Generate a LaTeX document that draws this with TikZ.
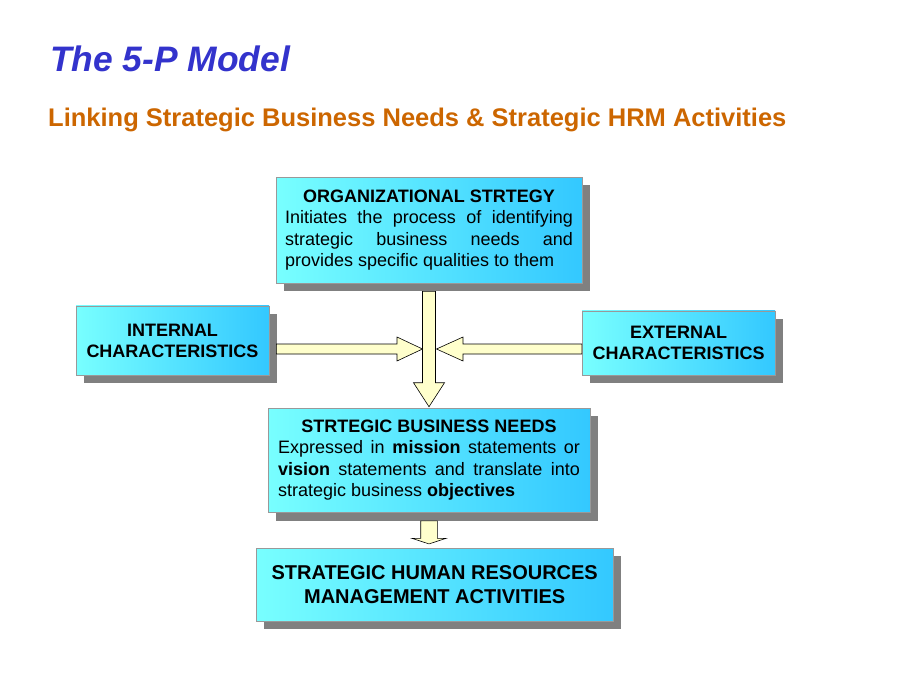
\documentclass[tikz,border=0pt]{standalone}
\usepackage{fontspec}
\setmainfont{Liberation Sans}
\usetikzlibrary{calc, positioning, shadows}

\definecolor{titleBlue}{RGB}{51,51,204}
\definecolor{subOrange}{RGB}{204,102,0}
\definecolor{boxLight}{RGB}{120,255,255}
\definecolor{boxDeep}{RGB}{51,200,255}
\definecolor{arrowFill}{RGB}{255,255,204}

\tolerance=10000
\hyphenpenalty=10000

\tikzset{
	panel/.style={draw=gray!80, line width=0.6pt, left color=boxLight, right color=boxDeep,
			drop shadow={shadow xshift=8pt, shadow yshift=-8pt, fill=black!50, opacity=1},
			inner sep=0pt, font=\fontsize{18}{21.5}\selectfont},
	fatarrow/.style={draw=black, line width=0.6pt, fill=arrowFill, line join=miter},
}

\begin{document}
\begin{tikzpicture}[x=1pt, y=-1pt]
	\useasboundingbox (0,0) rectangle (920,690);

	\node[anchor=base west, inner sep=0pt, text=titleBlue, font=\fontsize{35.4}{40}\selectfont\bfseries\itshape] (title) at (50,72) {The 5-P Model};
	\node[anchor=base west, inner sep=0pt, text=subOrange, font=\fontsize{25.5}{30}\selectfont\bfseries] (subtitle) at (48,127) {Linking Strategic Business Needs \& Strategic HRM Activities};

	\node[panel, minimum width=306pt, minimum height=106pt, text width=288pt, align=justify] (org) at (429,230)
		{{\centering\bfseries ORGANIZATIONAL STRTEGY\par}\noindent Initiates the process of identifying\linebreak strategic business needs and\linebreak provides specific qualities to them\par\vspace*{10pt}};
	\node[panel, minimum width=193pt, minimum height=69pt, align=center, font=\fontsize{18}{21}\selectfont\bfseries] (internal) at (172.5,340.4)
		{INTERNAL\\CHARACTERISTICS};
	\node[panel, minimum width=193pt, minimum height=64pt, align=center, font=\fontsize{18}{21}\selectfont\bfseries] (external) at (678.6,342.8)
		{EXTERNAL\\CHARACTERISTICS};
	\node[panel, minimum width=322pt, minimum height=104.5pt, text width=302pt, align=justify] (sbn) at (429,460.3)
		{{\centering\bfseries STRTEGIC BUSINESS NEEDS\par}\noindent Expressed in \textbf{mission} statements or\linebreak \textbf{vision} statements and translate into\linebreak strategic business \textbf{objectives}\par\vspace*{5pt}};
	\node[panel, minimum width=357pt, minimum height=73pt, align=center, font=\fontsize{20}{24}\selectfont\bfseries] (hrm) at (434.7,584.7)
		{STRATEGIC HUMAN RESOURCES\\MANAGEMENT ACTIVITIES};

	% arrows meet here
	\coordinate (hub) at (429,349);

	\draw[fatarrow] ($(org.south)+(-6.5,8)$) -- ($(sbn.north)+(-6.5,-25)$) -- ($(sbn.north)+(-15.5,-25)$)
		-- ($(sbn.north)+(0,-1)$) -- ($(sbn.north)+(15.5,-25)$) -- ($(sbn.north)+(6.5,-25)$)
		-- ($(org.south)+(6.5,8)$) -- cycle;
	\draw[fatarrow] ($(internal.east|-hub)+(7,-5)$) -- ($(hub)+(-32,-5)$) -- ($(hub)+(-32,-12)$)
		-- ($(hub)+(-6.5,0)$) -- ($(hub)+(-32,12)$) -- ($(hub)+(-32,5)$)
		-- ($(internal.east|-hub)+(7,5)$) -- cycle;
	\draw[fatarrow] ($(external.west|-hub)+(0,-5)$) -- ($(hub)+(34,-5)$) -- ($(hub)+(34,-12)$)
		-- ($(hub)+(7.5,0)$) -- ($(hub)+(34,12)$) -- ($(hub)+(34,5)$)
		-- ($(external.west|-hub)+(0,5)$) -- cycle;
	\draw[fatarrow] ($(sbn.south)+(-8.3,8)$) -- ($(sbn.south)+(-8.3,25.5)$) -- ($(sbn.south)+(-17,25.5)$)
		-- ($(sbn.south|-hrm.north)+(0,-4)$) -- ($(sbn.south)+(17,25.5)$) -- ($(sbn.south)+(8.3,25.5)$)
		-- ($(sbn.south)+(8.3,8)$) -- cycle;
\end{tikzpicture}
\end{document}
